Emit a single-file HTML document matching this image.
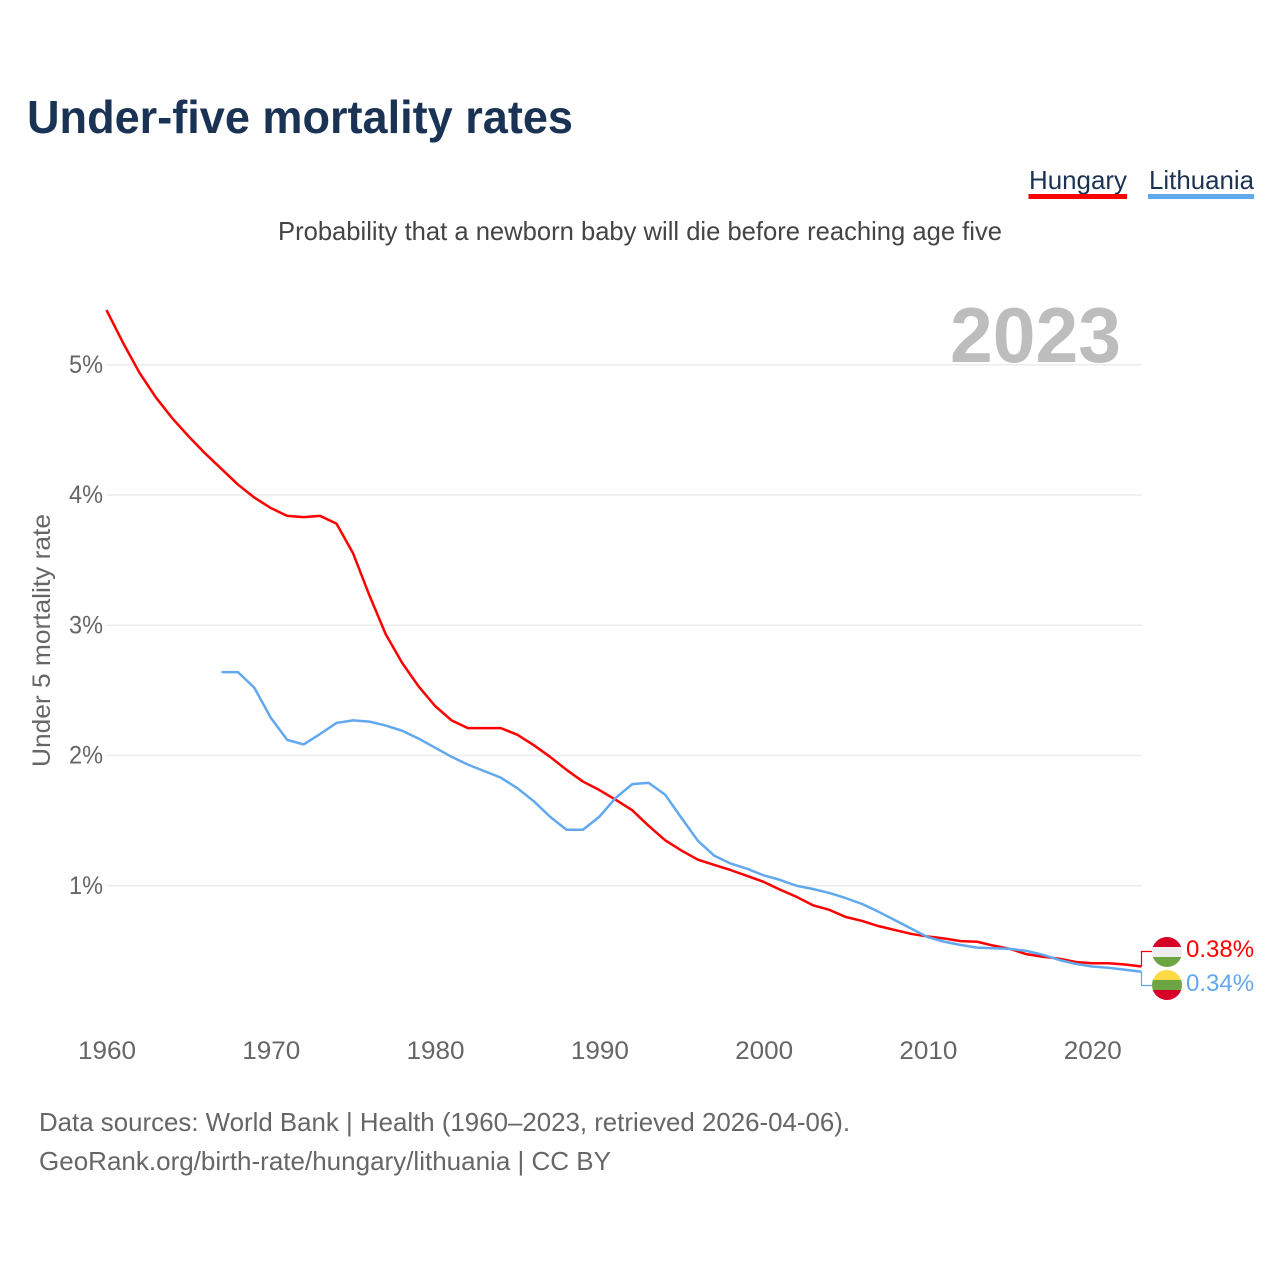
<!DOCTYPE html>
<html lang="en">
<head>
<meta charset="utf-8">
<title>Under-five mortality rates</title>
<style>
html,body{margin:0;padding:0;background:#fff;width:1280px;height:1280px;overflow:hidden}
svg{display:block}
text{font-family:"Liberation Sans",sans-serif}
</style>
</head>
<body>
<svg id="chart" width="1280" height="1280" viewBox="0 0 1280 1280" xmlns="http://www.w3.org/2000/svg">
  <rect x="0" y="0" width="1280" height="1280" fill="#fff"/>
  <text x="27" y="133" font-size="46" font-weight="bold" fill="#1a3354" textLength="546" lengthAdjust="spacingAndGlyphs">Under-five mortality rates</text>

  <g>
    <text x="1029" y="189" font-size="26" fill="#1a3354" textLength="98" lengthAdjust="spacingAndGlyphs">Hungary</text>
    <rect x="1028.5" y="194" width="98.5" height="5" fill="#ff0000"/>
  </g>
  <g>
    <text x="1149" y="189" font-size="26" fill="#1a3354" textLength="105" lengthAdjust="spacingAndGlyphs">Lithuania</text>
    <rect x="1148" y="194" width="106" height="5" fill="#62a8ee"/>
  </g>

  <text x="278" y="240" font-size="26" fill="#444" textLength="724" lengthAdjust="spacingAndGlyphs">Probability that a newborn baby will die before reaching age five</text>

  <g id="grid"></g>
  <text x="950" y="362" font-size="78" font-weight="bold" fill="#bdbdbd" textLength="171" lengthAdjust="spacingAndGlyphs">2023</text>
  <g id="yticks"></g>
  <g id="xticks"></g>
  <text transform="translate(50,767) rotate(-90)" x="0" y="0" font-size="25" fill="#666" textLength="253" lengthAdjust="spacingAndGlyphs">Under 5 mortality rate</text>

  <g id="series"></g>

  <defs>
    <clipPath id="clip-hu"><circle cx="1167" cy="952" r="15"/></clipPath>
    <clipPath id="clip-lt"><circle cx="1167" cy="985" r="15"/></clipPath>
  </defs>
  <g clip-path="url(#clip-hu)">
    <rect x="1152" y="937" width="30" height="10" fill="#d80027"/>
    <rect x="1152" y="947" width="30" height="10" fill="#eeeeee"/>
    <rect x="1152" y="957" width="30" height="10" fill="#6da544"/>
  </g>
  <g clip-path="url(#clip-lt)">
    <rect x="1152" y="970" width="30" height="10" fill="#ffda44"/>
    <rect x="1152" y="980" width="30" height="10" fill="#6da544"/>
    <rect x="1152" y="990" width="30" height="10" fill="#d80027"/>
  </g>
  <text x="1186" y="957" font-size="24" fill="#ff0000">0.38%</text>
  <text x="1186" y="991" font-size="24" fill="#62a8ee">0.34%</text>

  <text x="39" y="1131" font-size="26" fill="#666" textLength="811" lengthAdjust="spacingAndGlyphs">Data sources: World Bank | Health (1960–2023, retrieved 2026-04-06).</text>
  <text x="39" y="1170" font-size="26" fill="#666" textLength="572" lengthAdjust="spacingAndGlyphs">GeoRank.org/birth-rate/hungary/lithuania | CC BY</text>
</svg>
<script>
const hungaryStartYear = 1960;
const hungaryValues = [5.42,5.17,4.94,4.75,4.59,4.45,4.32,4.20,4.08,3.98,3.90,3.84,3.83,3.84,3.78,3.555,3.23,2.93,2.71,2.53,2.38,2.27,2.21,2.21,2.21,2.16,2.08,1.99,1.89,1.80,1.735,1.66,1.58,1.46,1.35,1.27,1.20,1.16,1.12,1.075,1.03,0.97,0.915,0.85,0.815,0.76,0.73,0.69,0.66,0.63,0.61,0.595,0.575,0.57,0.54,0.515,0.475,0.455,0.44,0.415,0.405,0.405,0.395,0.38];
const lithuaniaStartYear = 1967;
const lithuaniaValues = [2.64,2.64,2.52,2.29,2.12,2.085,2.165,2.25,2.27,2.26,2.23,2.19,2.13,2.06,1.99,1.93,1.88,1.83,1.75,1.65,1.53,1.43,1.43,1.53,1.675,1.78,1.79,1.70,1.52,1.345,1.23,1.17,1.13,1.08,1.045,1.00,0.975,0.945,0.905,0.86,0.80,0.735,0.67,0.605,0.57,0.545,0.525,0.52,0.515,0.50,0.47,0.43,0.40,0.38,0.37,0.355,0.34];
const yTickValues = [1,2,3,4,5];
const yTickLabels = ["1%","2%","3%","4%","5%"];
const xTickValues = [1960,1970,1980,1990,2000,2010,2020];
const xTickLabels = ["1960","1970","1980","1990","2000","2010","2020"];

const NS = "http://www.w3.org/2000/svg";
function xScale(year){ return 106.5 + (year - 1960) * (1141.5 - 106.5) / 63; }
function yScale(v){ return 1016 - v * 130.25; }
function make(tag, attrs){
  const el = document.createElementNS(NS, tag);
  for (const k in attrs) el.setAttribute(k, attrs[k]);
  return el;
}

const grid = document.getElementById("grid");
const yticks = document.getElementById("yticks");
yTickValues.forEach(function(v, i){
  const line = make("line", {x1:107, x2:1142, y1:yScale(v), y2:yScale(v), stroke:"#ececec", "stroke-width":1.5});
  
  
  grid.appendChild(line);
  const t = make("text", {x:69, y:yScale(v)+8, "font-size":25, fill:"#666", textLength:34, lengthAdjust:"spacingAndGlyphs"});
  
  
  t.textContent = yTickLabels[i];
  yticks.appendChild(t);
});

const xticks = document.getElementById("xticks");
xTickValues.forEach(function(yr, i){
  const t = make("text", {x:xScale(yr)-28.5, y:1059, "font-size":25, fill:"#666", textLength:58, lengthAdjust:"spacingAndGlyphs"});
  
  
  t.textContent = xTickLabels[i];
  xticks.appendChild(t);
});

function linePoints(startYear, values){
  return values.map(function(v, i){
    return xScale(startYear + i).toFixed(2) + "," + yScale(v).toFixed(2);
  }).join(" ");
}
const series = document.getElementById("series");

const huLine = make("polyline", {points:linePoints(hungaryStartYear, hungaryValues), fill:"none", stroke:"#ff0000", "stroke-width":2.5, "stroke-linejoin":"round"});


series.appendChild(huLine);

const ltLine = make("polyline", {points:linePoints(lithuaniaStartYear, lithuaniaValues), fill:"none", stroke:"#62a8ee", "stroke-width":2.5, "stroke-linejoin":"round"});


series.appendChild(ltLine);

const huLast = hungaryValues[hungaryValues.length - 1];
const ltLast = lithuaniaValues[lithuaniaValues.length - 1];
const huConn = make("polyline", {points:"1141.5," + yScale(huLast).toFixed(2) + " 1141.5,951.5 1152,951.5", fill:"none", stroke:"#ff0000", "stroke-width":1.2});


series.appendChild(huConn);

const ltConn = make("polyline", {points:"1141.5," + yScale(ltLast).toFixed(2) + " 1141.5,985.5 1152,985.5", fill:"none", stroke:"#62a8ee", "stroke-width":1.2});


series.appendChild(ltConn);
</script>
</body>
</html>
